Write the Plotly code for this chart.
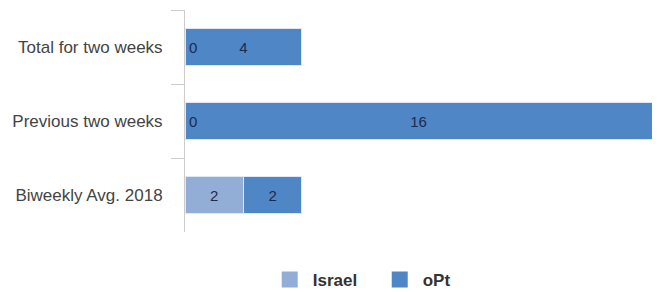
import plotly.graph_objects as go

categories = ["Total for two weeks", "Previous two weeks", "Biweekly Avg. 2018"]
israel = [0, 0, 2]
opt = [4, 16, 2]
series = [("Israel", israel, "#93AED6"), ("oPt", opt, "#4F86C6")]

fig = go.Figure()
for name, vals, color in series:
    fig.add_trace(go.Bar(
        y=categories, x=vals, name=name, orientation="h", showlegend=False,
        marker=dict(color=color, line=dict(color="#dfe8f4", width=1)),
        text=[str(v) if v else "" for v in vals],
        textposition="inside", insidetextanchor="middle",
        textfont=dict(family="Liberation Sans, Arial", size=15, color="#1c2b4e"),
        constraintext="none",
    ))

# legend entries with larger square swatches
for name, vals, color in series:
    fig.add_trace(go.Scatter(
        x=[None], y=[None], name=name, mode="markers", showlegend=True,
        marker=dict(symbol="square", size=18, color=color),
    ))

# zero values are shown at the bar base
for name, vals, color in series:
    if name != "Israel":
        continue
    for cat, v in zip(categories, vals):
        if v == 0:
            fig.add_annotation(x=0, y=cat, xref="x", yref="y", text="0",
                               showarrow=False, xanchor="left", xshift=2,
                               font=dict(family="Liberation Sans, Arial", size=15, color="#1c2b4e"))

fig.update_layout(
    barmode="stack", bargap=0.5,
    width=663, height=292,
    margin=dict(l=177, r=19, t=2, b=68, autoexpand=False),
    plot_bgcolor="white", paper_bgcolor="white",
    font=dict(family="Liberation Sans, Arial", color="#444444"),
    showlegend=True,
    legend=dict(orientation="h", x=0.175, xanchor="left", y=-0.216, yanchor="middle",
                font=dict(size=17, color="#333333", weight="bold"),
                itemwidth=36, entrywidth=59, entrywidthmode="pixels",
                traceorder="normal"),
)
fig.update_xaxes(range=[0, 16], visible=False, showgrid=False, zeroline=False, automargin=False)
fig.update_yaxes(autorange="reversed", showline=True, linecolor="#cccccc", linewidth=1,
                 ticks="outside", tickson="boundaries", ticklen=13, tickcolor="#cccccc",
                 ticklabelstandoff=18, automargin=False,
                 tickfont=dict(size=17, color="#444444"), showgrid=False)

fig.write_html("out.html")
